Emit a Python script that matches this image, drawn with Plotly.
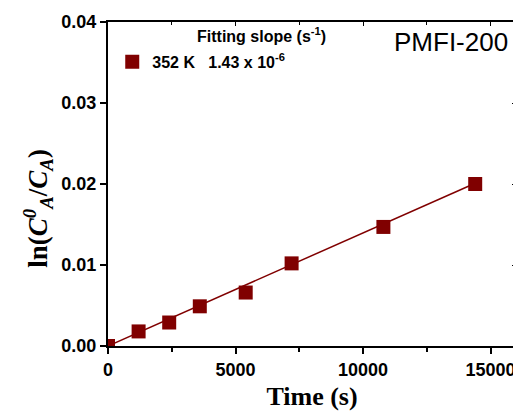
import plotly.graph_objects as go

# measured points
time_s = [0, 1200, 2400, 3600, 5400, 7200, 10800, 14400]
ln_ratio = [0.0, 0.0018, 0.0029, 0.0049, 0.0066, 0.0102, 0.0147, 0.0200]

# fitted line end points
fit_x = [0, 14400]
fit_y = [0.0, 0.0201]

series_name = "<b>352 K   1.43 x 10<sup>-6</sup></b>"
legend_title = "<b>Fitting slope (s<sup>-1</sup>)</b>"
sample_label = "PMFI-200"
y_title = "<b>ln(<i>C<sup>0</sup><sub>A</sub></i>/<i>C<sub>A</sub></i>)</b>"

red = "#800000"
tick_font = dict(family="Liberation Sans, Arial", size=18, color="black", weight="bold")
label_font = dict(family="Liberation Sans, Arial", size=16, color="black")

fig = go.Figure()

fig.add_trace(go.Scatter(
    x=fit_x, y=fit_y, mode="lines",
    line=dict(color=red, width=1.5),
    showlegend=False, hoverinfo="skip"
))
fig.add_trace(go.Scatter(
    x=time_s, y=ln_ratio, mode="markers",
    name=series_name,
    marker=dict(symbol="square", size=14, color=red)
))
# dummy trace so the mirror axes are drawn
fig.add_trace(go.Scatter(
    x=[None], y=[None], xaxis="x2", yaxis="y2",
    showlegend=False, hoverinfo="skip"
))

# page body has an 8px margin, so the figure is 8px smaller than the window
fig.update_layout(
    width=513, height=407,
    margin=dict(l=100, r=5, t=14, b=69, autoexpand=False),
    plot_bgcolor="white", paper_bgcolor="white",
    xaxis=dict(
        range=[0, 16000], dtick=5000, tick0=0, tickformat="d",
        showgrid=False, zeroline=False, automargin=False,
        showline=True, linecolor="black", linewidth=2,
        ticks="outside", ticklen=6, tickwidth=2, tickcolor="black",
        minor=dict(ticks="outside", dtick=2500, ticklen=4, tickwidth=1.5, tickcolor="black"),
        tickfont=tick_font,
        title=dict(text="<b>Time (s)</b>",
                   font=dict(family="Liberation Serif, Times New Roman", size=26, color="black"),
                   standoff=8),
    ),
    yaxis=dict(
        range=[0, 0.04], dtick=0.01, tickformat=".2f",
        showgrid=False, zeroline=False, automargin=False,
        showline=True, linecolor="black", linewidth=2,
        ticks="outside", ticklen=6, tickwidth=2, tickcolor="black",
        tickfont=tick_font,
    ),
    xaxis2=dict(
        overlaying="x", matches="x", side="top",
        range=[0, 16000], dtick=5000, tick0=0,
        showgrid=False, zeroline=False, automargin=False,
        showline=True, linecolor="black", linewidth=2,
        ticks="inside", ticklen=4, tickwidth=1, tickcolor="black",
        minor=dict(ticks="inside", dtick=2500, ticklen=3, tickwidth=1, tickcolor="black"),
        showticklabels=False,
    ),
    yaxis2=dict(
        overlaying="y", matches="y", side="right",
        range=[0, 0.04], dtick=0.01,
        showgrid=False, zeroline=False, automargin=False,
        showline=True, linecolor="black", linewidth=2,
        ticks="inside", ticklen=4, tickwidth=1, tickcolor="black",
        showticklabels=False,
    ),
    legend=dict(
        x=0.0104, y=0.877, xanchor="left", yanchor="middle",
        bgcolor="rgba(0,0,0,0)",
        font=label_font,
    ),
    annotations=[
        dict(
            text=y_title, xref="paper", yref="paper",
            x=-0.172, y=0.426, xanchor="center", yanchor="middle",
            textangle=-90, showarrow=False,
            font=dict(family="Liberation Serif, Times New Roman", size=27, color="black"),
        ),
        dict(
            text=legend_title, xref="paper", yref="paper",
            x=0.377, y=0.96, xanchor="center", yanchor="middle", showarrow=False,
            font=label_font,
        ),
        dict(
            text=sample_label, xref="paper", yref="paper",
            x=0.985, y=0.99, xanchor="right", yanchor="top", showarrow=False,
            font=dict(family="Liberation Sans, Arial", size=26, color="black"),
        ),
    ],
)

fig.write_html("out.html")
